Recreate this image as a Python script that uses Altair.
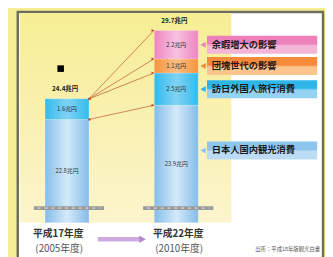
import altair as alt
import pandas as pd

# ---------------- data ----------------
years = ["2005", "2010"]
year_names = ["平成17年度", "平成22年度"]
year_sub = ["(2005年度)", "(2010年度)"]
segments = ["日本人国内観光消費", "訪日外国人旅行消費", "団塊世代の影響", "余暇増大の影響"]
vals_2005 = [22.8, 1.6, 0.0, 0.0]
vals_2010 = [23.9, 2.5, 1.1, 2.2]
totals = [24.4, 29.7]
source_note = "出所：平成18年版観光白書"

# ---------------- styling ----------------
FONT = "Noto Sans CJK JP"
BREAK = 14.78          # value shown at the broken-axis bottom of the bars
TOP = 31.215
seg_colors = {
    "日本人国内観光消費": ("#84bde9", "#d4eafa"),
    "訪日外国人旅行消費": ("#33bbec", "#7fd3f4"),
    "団塊世代の影響": ("#f5953f", "#fbbd80"),
    "余暇増大の影響": ("#ee86c0", "#f6c2df"),
}
box_colors = {
    "日本人国内観光消費": ("#8ec5ee", "#bcdcf5"),
    "訪日外国人旅行消費": ("#2fb6e9", "#95d2f1"),
    "団塊世代の影響": ("#f68a3b", "#fbc58d"),
    "余暇増大の影響": ("#ee80ba", "#f3b6d6"),
}

rows = []
for yr, vals in zip(years, [vals_2005, vals_2010]):
    cum = 0.0
    for seg, v in zip(segments, vals):
        if v <= 0:
            continue
        start = cum
        end = round(cum + v, 2)
        vis_start = max(start, BREAK)
        rows.append(dict(year=yr, seg=seg, v=v, start=start, end=end,
                         mid=(vis_start + end) / 2, label=f"{v}兆円"))
        cum = end
seg_df = pd.DataFrame(rows)

tot_df = pd.DataFrame({"year": years, "total": totals,
                       "label": [f"{t}兆円" for t in totals]})

d10 = seg_df[seg_df.year == "2010"]
dom05 = seg_df[(seg_df.year == "2005") & (seg_df.seg == segments[0])].end.iloc[0]
conn = []
for _, r in d10.iterrows():
    src = dom05 if r.seg == segments[0] else totals[0]
    conn.append(dict(a="2005", b="2010", y0=src, y1=r.end))
conn_df = pd.DataFrame(conn)

call = d10.copy()
call["c"] = call["mid"] + call["seg"].map(lambda s: 1.05 if s == segments[0] else 0.0)
call["lo"] = call["c"] - 0.7
call["hi"] = call["c"] + 0.7

yr_df = pd.DataFrame({"year": years, "name": year_names, "sub": year_sub})

xs = alt.Scale(type="point", domain=years, range=[60.5, 172.5], padding=0)
ys = alt.Scale(domain=[BREAK, TOP], range=[217, 0], clamp=True, nice=False, zero=False)

one = pd.DataFrame({"k": [0]})


def hgrad(c_edge, c_mid):
    return alt.LinearGradient(gradient="linear", x1=0, x2=1, y1=0, y2=0, stops=[
        alt.GradientStop(color=c_edge, offset=0),
        alt.GradientStop(color=c_mid, offset=0.5),
        alt.GradientStop(color=c_edge, offset=1)])


def vgrad(c_top, c_bot):
    return alt.LinearGradient(gradient="linear", x1=0, x2=0, y1=0, y2=1, stops=[
        alt.GradientStop(color=c_top, offset=0),
        alt.GradientStop(color=c_top, offset=0.45),
        alt.GradientStop(color=c_bot, offset=0.55),
        alt.GradientStop(color=c_bot, offset=1)])


layers = []
# frame
layers.append(alt.Chart(one).mark_rect(fill="white", stroke="#6e6e5e", strokeWidth=2.5).encode(
    x=alt.value(10), x2=alt.value(323), y=alt.value(1), y2=alt.value(262)))
# yellow panel
layers.append(alt.Chart(one).mark_rect(fill=alt.LinearGradient(
    gradient="linear", x1=0, x2=0, y1=0, y2=1, stops=[
        alt.GradientStop(color="#f6ed94", offset=0),
        alt.GradientStop(color="#fcf5cd", offset=1)])).encode(
    x=alt.value(12), x2=alt.value(229), y=alt.value(2), y2=alt.value(217)))

# bars
for seg in segments:
    e, m = seg_colors[seg]
    layers.append(alt.Chart(seg_df).transform_filter(alt.datum.seg == seg).mark_bar(
        size=45, fill=hgrad(e, m), stroke="white", strokeWidth=0.4, strokeDash=[1, 1]).encode(
        x=alt.X("year:N", scale=xs, axis=None),
        y=alt.Y("end:Q", scale=ys, axis=None),
        y2="start:Q"))

# axis break marks
layers.append(alt.Chart(yr_df).mark_rule(color="#9a9a9a", strokeWidth=4, xOffset=-34, x2Offset=38).encode(
    x=alt.X("year:N", scale=xs), x2="year:N", y=alt.value(202)))
layers.append(alt.Chart(yr_df).mark_rule(color="white", strokeWidth=0.8, strokeDash=[3, 4],
                                         xOffset=-30, x2Offset=34).encode(
    x=alt.X("year:N", scale=xs), x2="year:N", y=alt.value(202)))

# connecting lines
layers.append(alt.Chart(conn_df).mark_rule(color="#c8663c", strokeWidth=0.8, xOffset=22.5, x2Offset=-23).encode(
    x=alt.X("a:N", scale=xs), x2="b:N", y=alt.Y("y0:Q", scale=ys), y2="y1:Q"))
layers.append(alt.Chart(conn_df).mark_point(shape="triangle-right", filled=True, size=10,
                                            color="#b8502a", opacity=1, xOffset=-24).encode(
    x=alt.X("b:N", scale=xs), y=alt.Y("y1:Q", scale=ys)))
layers.append(alt.Chart(conn_df).mark_point(shape="circle", filled=True, size=6,
                                            color="#b8502a", opacity=1, xOffset=23).encode(
    x=alt.X("a:N", scale=xs), y=alt.Y("y0:Q", scale=ys)))

# callouts
for seg in segments:
    t, b = box_colors[seg]
    sub = call[call.seg == seg]
    layers.append(alt.Chart(sub).mark_rect(fill=vgrad(t, b)).encode(
        x=alt.value(204), x2=alt.value(317),
        y=alt.Y("hi:Q", scale=ys), y2="lo:Q"))
    layers.append(alt.Chart(sub).mark_point(shape="triangle-left", filled=True, size=40,
                                            color=t, opacity=1).encode(
        x=alt.value(200), y=alt.Y("c:Q", scale=ys)))
layers.append(alt.Chart(call).mark_text(font=FONT, fontSize=9.5, color="#1a1a1a", align="left",
                                        baseline="middle", fontWeight="bold").encode(
    x=alt.value(209), y=alt.Y("c:Q", scale=ys), text="seg:N"))

# segment labels
layers.append(alt.Chart(seg_df).mark_text(font=FONT, fontSize=6, color="#333333",
                                          baseline="middle").encode(
    x=alt.X("year:N", scale=xs), y=alt.Y("mid:Q", scale=ys), text="label:N"))
# totals
layers.append(alt.Chart(tot_df).mark_text(font=FONT, fontSize=6.5, color="#222222", fontWeight="bold",
                                          baseline="middle", dy=-10, dx=-2).encode(
    x=alt.X("year:N", scale=xs), y=alt.Y("total:Q", scale=ys), text="label:N"))

# small icon
layers.append(alt.Chart(one).mark_square(size=45, color="black", opacity=1).encode(
    x=alt.value(54), y=alt.value(59)))

# year labels
for yr, dx in zip(years, [-9, 2]):
    base = alt.Chart(yr_df).transform_filter(alt.datum.year == yr)
    layers.append(base.mark_text(font=FONT, fontSize=10, fontWeight="bold", color="#333333",
                                 baseline="middle", dx=dx).encode(
        x=alt.X("year:N", scale=xs), y=alt.value(229), text="name:N"))
    layers.append(base.mark_text(font=FONT, fontSize=10, color="#555555",
                                 baseline="middle", dx=dx + 1).encode(
        x=alt.X("year:N", scale=xs), y=alt.value(244), text="sub:N"))

# purple arrow
layers.append(alt.Chart(one).mark_rule(color="#cfa9de", strokeWidth=4.5).encode(
    x=alt.value(92), x2=alt.value(136), y=alt.value(234)))
layers.append(alt.Chart(one).mark_point(shape="triangle-right", filled=True, size=60,
                                        color="#b888cc", opacity=1).encode(
    x=alt.value(138), y=alt.value(234)))

# source
layers.append(alt.Chart(one).mark_text(font=FONT, fontSize=5.5, color="#555555", align="right",
                                       baseline="middle").encode(
    x=alt.value(320), y=alt.value(244), text=alt.value(source_note)))

chart = alt.layer(*layers).properties(
    width=325, height=249, padding=0,
    autosize=alt.AutoSizeParams(type="none"),
    background="#f6ee92",
).configure_view(strokeWidth=0)

chart.save("out.html", embed_options={"renderer": "svg", "actions": False})
